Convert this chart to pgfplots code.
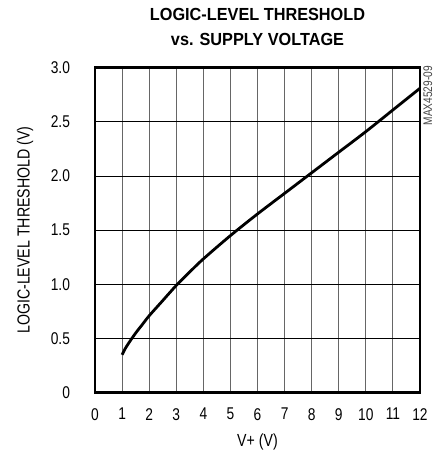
\documentclass[border=0pt]{standalone}
\usepackage{fontspec}
\setmainfont{Liberation Sans}[FakeStretch=0.81]
\newfontfamily\titlefont{Liberation Sans}[FakeStretch=0.93]
\usepackage{pgfplots}
\pgfplotsset{compat=1.18}
\begin{document}
\begin{tikzpicture}
\begin{axis}[
  scale only axis, width=325bp, height=325bp,
  at={(0,0)}, anchor=south west,
  clip mode=individual,
  xmin=0, xmax=12, ymin=0, ymax=3,
  xtick={0,1,...,12}, ytick={0,0.5,1,1.5,2,2.5,3},
  yticklabels={0,0.5,1.0,1.5,2.0,2.5,3.0},
  /pgf/number format/assume math mode=true,
  major tick length=0,
  grid=major,
  major grid style={line width=1bp},
  every axis x grid/.style={gray!80!black},
  every axis y grid/.style={black},
  axis line style={line width=2.6bp},
  tick label style={font=\fontsize{17bp}{19bp}\selectfont},
  xticklabel style={yshift=-12bp},
  yticklabel style={xshift=-21.5bp},
  xlabel={V+ (V)},
  ylabel={LOGIC-LEVEL THRESHOLD (V)},
  label style={font=\fontsize{17.5bp}{19bp}\selectfont},
  xlabel style={at={(rel axis cs:0.5,0)}, anchor=center, yshift=-49bp},
  ylabel style={at={(rel axis cs:0,0.5)}, anchor=center, rotate=0, yshift=70bp},
]
\addplot[line width=2.8bp, black, smooth] coordinates {
(1,0.35) (1.1,0.40) (1.25,0.46) (1.5,0.55) (1.75,0.63) (2,0.71) (2.5,0.85) (3,0.99) (3.5,1.115) (4,1.235) (5,1.45) (6,1.65) (7,1.84) (8,2.03) (9,2.22) (10,2.41) (11,2.61) (12,2.81)
};
\node[rotate=90, anchor=north east, font=\fontsize{12.5bp}{14bp}\selectfont, gray!55!black] at (rel axis cs:1,1) [xshift=5bp] {MAX4529-09};
\node[font=\titlefont\bfseries\fontsize{17.5bp}{25bp}\selectfont, align=center] at (rel axis cs:0.5,1) [yshift=40.5bp] {LOGIC-LEVEL THRESHOLD\\vs. SUPPLY VOLTAGE};
\end{axis}
\path[use as bounding box] (-95bp,-62.3bp) rectangle (346bp,392.7bp);
\end{tikzpicture}
\end{document}
